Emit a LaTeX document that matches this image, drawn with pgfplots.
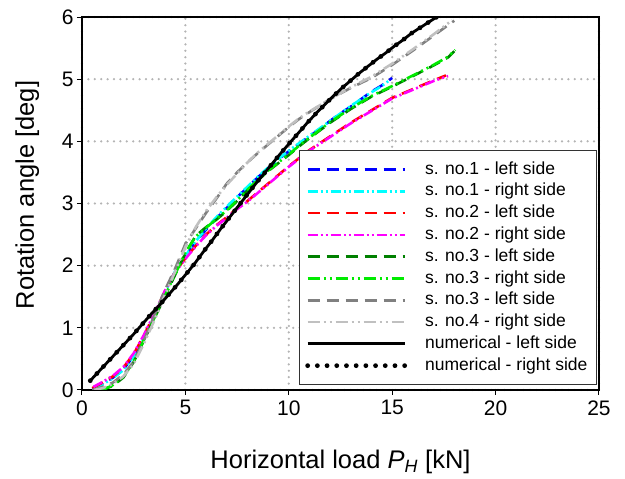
\documentclass[border=0pt]{standalone}
\usepackage{pgfplots}
\pgfplotsset{compat=1.18}
\usepackage{pgfplotstable}
\usepackage{fontspec}
\setmainfont{Liberation Sans}

\definecolor{cBlue}{RGB}{0,0,255}
\definecolor{cCyan}{RGB}{0,255,255}
\definecolor{cRed}{RGB}{255,0,0}
\definecolor{cMag}{RGB}{255,0,255}
\definecolor{cDkGreen}{RGB}{0,128,0}
\definecolor{cGreen}{RGB}{0,235,0}
\definecolor{cGray}{RGB}{128,128,128}
\definecolor{cLtGray}{RGB}{192,192,192}
\definecolor{cGrid}{RGB}{180,180,180}

\pgfplotstableread{
x y
0.50 0.02
1.00 0.10
1.50 0.20
2.00 0.33
2.50 0.55
3.00 0.85
3.50 1.20
4.00 1.55
4.50 1.90
5.00 2.15
5.50 2.38
6.00 2.58
6.50 2.76
7.00 2.93
7.50 3.10
8.00 3.26
8.50 3.42
9.00 3.57
9.50 3.71
10.00 3.84
10.50 3.96
11.00 4.08
11.50 4.20
12.00 4.33
12.50 4.45
13.00 4.56
13.50 4.68
14.00 4.80
14.50 4.90
15.00 5.02
}\sOneL

\pgfplotstableread{
x y
0.60 0.03
1.00 0.09
1.50 0.19
2.00 0.32
2.50 0.54
3.00 0.84
3.50 1.19
4.00 1.56
4.50 1.91
5.00 2.16
5.50 2.39
6.00 2.60
6.50 2.78
7.00 2.95
7.50 3.11
8.00 3.27
8.50 3.43
9.00 3.58
9.50 3.72
10.00 3.85
10.50 3.97
11.00 4.09
11.50 4.21
12.00 4.33
12.50 4.45
13.00 4.57
13.50 4.68
14.00 4.79
14.50 4.89
14.90 4.99
}\sOneR

\pgfplotstableread{
x y
0.50 0.03
1.00 0.12
1.50 0.22
2.00 0.36
2.50 0.58
3.00 0.88
3.50 1.22
4.00 1.58
4.50 1.90
5.00 2.12
5.50 2.32
6.00 2.50
6.50 2.65
7.00 2.78
7.50 2.92
8.00 3.04
8.50 3.18
9.00 3.32
9.50 3.46
10.00 3.60
10.50 3.73
11.00 3.86
11.50 3.97
12.00 4.08
12.50 4.19
13.00 4.30
13.50 4.40
14.00 4.50
14.50 4.60
15.00 4.70
15.50 4.77
16.00 4.84
16.50 4.91
17.00 4.98
17.60 5.06
}\sTwoL

\pgfplotstableread{
x y
0.55 0.05
1.00 0.13
1.50 0.23
2.00 0.37
2.50 0.59
3.00 0.89
3.50 1.23
4.00 1.59
4.50 1.89
5.00 2.11
5.50 2.31
6.00 2.49
6.50 2.64
7.00 2.77
7.50 2.91
8.00 3.03
8.50 3.17
9.00 3.31
9.50 3.45
10.00 3.59
10.50 3.72
11.00 3.85
11.50 3.96
12.00 4.07
12.50 4.18
13.00 4.29
13.50 4.39
14.00 4.49
14.50 4.59
15.00 4.69
15.50 4.76
16.00 4.83
16.50 4.90
17.00 4.97
17.70 5.05
}\sTwoR

\pgfplotstableread{
x y
0.90 0.00
1.20 0.03
1.50 0.07
2.00 0.20
2.50 0.45
3.00 0.80
3.50 1.15
4.00 1.50
4.50 1.85
5.00 2.20
5.50 2.48
6.00 2.62
6.50 2.74
7.00 2.88
7.50 3.04
8.00 3.21
8.50 3.37
9.00 3.52
9.50 3.65
10.00 3.78
10.50 3.92
11.00 4.05
12.00 4.30
13.00 4.52
14.00 4.72
15.00 4.88
16.00 5.05
17.00 5.22
17.70 5.35
18.00 5.45
}\sThreeL

\pgfplotstableread{
x y
1.00 0.00
1.50 0.08
2.00 0.21
2.50 0.46
3.00 0.81
3.50 1.16
4.00 1.51
4.50 1.86
5.00 2.21
5.50 2.47
6.00 2.61
6.50 2.75
7.00 2.89
7.50 3.05
8.00 3.22
8.50 3.38
9.00 3.53
9.50 3.66
10.00 3.79
10.50 3.93
11.00 4.06
12.00 4.31
13.00 4.53
14.00 4.73
15.00 4.89
16.00 5.06
17.00 5.23
17.70 5.36
18.05 5.47
}\sThreeR

\pgfplotstableread{
x y
0.50 0.00
1.00 0.05
1.50 0.12
2.00 0.25
2.50 0.45
3.00 0.80
3.50 1.20
4.00 1.60
4.50 1.95
5.00 2.35
5.50 2.60
6.00 2.85
6.50 3.08
7.00 3.32
7.50 3.50
8.00 3.66
8.50 3.81
9.00 3.95
9.50 4.09
10.00 4.23
10.50 4.36
11.00 4.47
12.00 4.68
13.00 4.86
14.00 5.02
15.00 5.23
16.00 5.46
17.00 5.70
18.00 5.94
}\sThreeLb

\pgfplotstableread{
x y
0.60 0.00
1.00 0.03
1.50 0.10
2.00 0.22
2.50 0.42
3.00 0.75
3.50 1.12
4.00 1.52
4.50 1.90
5.00 2.30
5.50 2.62
6.00 2.88
6.50 3.10
7.00 3.30
7.50 3.48
8.00 3.66
8.50 3.82
9.00 3.96
9.50 4.10
10.00 4.24
10.50 4.37
11.00 4.48
12.00 4.68
13.00 4.87
14.00 5.04
15.00 5.25
16.00 5.48
17.00 5.72
17.90 5.95
}\sFourR

\pgfplotstableread{
x y
0.40 0.15
0.82 0.30
1.24 0.45
1.66 0.60
2.08 0.75
2.50 0.90
2.92 1.06
3.34 1.22
3.76 1.37
4.18 1.53
4.60 1.69
5.02 1.86
5.44 2.03
5.86 2.22
6.28 2.40
6.70 2.59
7.12 2.77
7.54 2.95
7.96 3.13
8.38 3.31
8.80 3.48
9.22 3.65
9.64 3.82
10.06 3.98
10.48 4.14
10.90 4.30
11.32 4.45
11.74 4.59
12.16 4.73
12.58 4.86
13.00 4.98
13.42 5.10
13.84 5.21
14.26 5.32
14.68 5.42
15.10 5.53
15.52 5.63
15.94 5.74
16.36 5.83
16.78 5.92
17.20 6.01
}\numer

\begin{document}
\begin{tikzpicture}
\useasboundingbox (-82pt,-89pt) rectangle (543pt,390pt);
\begin{axis}[
  at={(0pt,0pt)}, anchor=south west,
  scale only axis, width=517pt, height=373pt,
  xmin=0, xmax=25, ymin=0, ymax=6,
  xtick={0,5,10,15,20,25}, ytick={0,1,2,3,4,5,6},
  xtick pos=bottom, ytick pos=left,
  tick align=outside, major tick length=5pt,
  tick style={black, line width=1pt},
  axis line style={black, line width=1.2pt},
  /pgf/number format/assume math mode=true,
  ticklabel style={font=\fontsize{21}{24}\selectfont},
  xticklabel style={yshift=-2pt},
  grid=major,
  major grid style={cGrid, line width=2.5pt, dash pattern=on 0pt off 6.4pt, line cap=round},
  every axis x label/.style={at={(axis description cs:0.5,-0.193)}, anchor=center},
  every axis y label/.style={at={(axis description cs:-0.106,0.523)}, rotate=90, anchor=center},
  label style={font=\fontsize{25.5}{28}\selectfont},
  xlabel={Horizontal load \textit{P}\textsubscript{\textit{H}} [kN]},
  ylabel={Rotation angle [deg]},
  legend cell align=left,
  legend image code/.code={\draw[#1] (0pt,0pt) -- (97pt,0pt); \path (112pt,0pt);},
  legend style={at={(0.996,0.0134)}, anchor=south east,
    draw=black!80, line width=0.9pt, fill=white,
    font=\fontsize{17.5}{20}\selectfont,
    inner xsep=6pt, inner ysep=8pt,
    nodes={inner sep=3pt, text height=12.5pt, text depth=3.3pt}},
  clip=true,
]
\addplot[cBlue, line width=2.6pt, dash pattern=on 12pt off 7pt] table[x=x,y=y] {\sOneL};
\addlegendentry{s. no.1 - left side}
\addplot[cCyan, line width=2.6pt, dash pattern=on 10pt off 3pt on 2pt off 3pt on 2pt off 3pt] table[x=x,y=y] {\sOneR};
\addlegendentry{s. no.1 - right side}
\addplot[cRed, line width=2.6pt, dash pattern=on 12pt off 7pt] table[x=x,y=y] {\sTwoL};
\addlegendentry{s. no.2 - left side}
\addplot[cMag, line width=2.6pt, dash pattern=on 10pt off 3pt on 2pt off 3pt on 2pt off 3pt] table[x=x,y=y] {\sTwoR};
\addlegendentry{s. no.2 - right side}
\addplot[cDkGreen, line width=2.6pt, dash pattern=on 12pt off 7pt] table[x=x,y=y] {\sThreeL};
\addlegendentry{s. no.3 - left side}
\addplot[cGreen, line width=2.6pt, dash pattern=on 12pt off 4pt on 2pt off 4pt on 2pt off 4pt] table[x=x,y=y] {\sThreeR};
\addlegendentry{s. no.3 - right side}
\addplot[cGray, line width=2.6pt, dash pattern=on 12pt off 7pt] table[x=x,y=y] {\sThreeLb};
\addlegendentry{s. no.3 - left side}
\addplot[cLtGray, line width=2.6pt, dash pattern=on 12pt off 4pt on 2pt off 4pt on 2pt off 4pt] table[x=x,y=y] {\sFourR};
\addlegendentry{s. no.4 - right side}
\addplot[black, line width=2.8pt] table[x=x,y=y] {\numer};
\addlegendentry{numerical - left side}
\addplot[black, line width=4.8pt, line cap=round, dash pattern=on 0pt off 9.7pt] table[x=x,y=y] {\numer};
\addlegendentry{numerical - right side}
\end{axis}
\end{tikzpicture}
\end{document}
